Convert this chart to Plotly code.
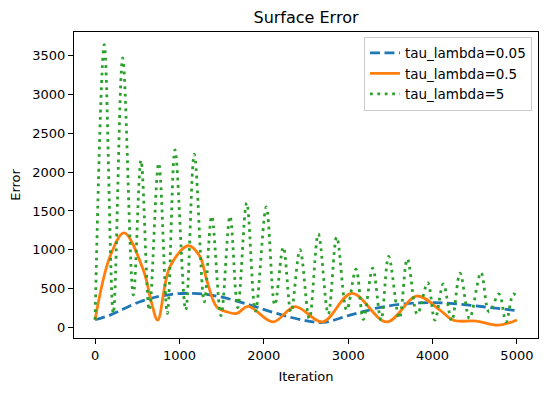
import plotly.graph_objects as go

# tau_lambda=0.05 (dashed blue)
blue_x = [0, 177, 532, 849, 1164, 1481, 1836, 2153, 2468, 2705, 3021, 3416, 3851, 4207, 4602, 5000]
blue_y = [100, 160, 331, 418, 440, 396, 289, 181, 94, 65, 159, 267, 318, 311, 267, 218]

# tau_lambda=0.5 (solid orange)
orange_x = [0, 177, 343, 571, 671, 742, 888, 1105, 1243, 1323, 1441, 1560, 1679, 1816, 2109,
            2370, 2698, 3042, 3457, 3812, 4088, 4246, 4523, 4780, 5000]
orange_y = [100, 914, 1217, 742, 311, 94, 784, 1052, 914, 612, 267, 202, 181, 272, 72,
            269, 72, 440, 72, 405, 224, 94, 82, 30, 97]

# tau_lambda=5 (dotted green): peaks and troughs
green_x = [0, 109, 216, 327, 453, 544, 642, 754, 856, 947, 1074, 1176, 1294, 1382, 1492,
           1599, 1690, 1797, 1901, 2029, 2130, 2231, 2322, 2429, 2539, 2646, 2764, 2864,
           2982, 3093, 3179, 3291, 3389, 3480, 3606, 3701, 3819, 3943, 4027, 4128, 4227,
           4326, 4438, 4574, 4669, 4788, 4871, 4957, 5000]
green_y = [100, 3640, 181, 3469, 418, 2152, 224, 2114, 181, 2286, 224, 2230, 331, 1432, 153,
           1432, 256, 1605, 211, 1551, 289, 1035, 198, 1001, 116, 1204, 172, 1165,
           224, 751, 104, 764, 94, 914, 116, 884, 172, 577, 94, 560, 85,
           699, 116, 707, 202, 431, 72, 431, 395]

x_ticks = [0, 1000, 2000, 3000, 4000, 5000]
y_ticks = [0, 500, 1000, 1500, 2000, 2500, 3000, 3500]

fig = go.Figure()
fig.add_trace(go.Scatter(x=blue_x, y=blue_y, mode="lines", name="tau_lambda=0.05",
                         line=dict(color="#1f77b4", width=2.8, dash="10px,4.5px", shape="spline")))
fig.add_trace(go.Scatter(x=orange_x, y=orange_y, mode="lines", name="tau_lambda=0.5",
                         line=dict(color="#ff7f0e", width=2.8, shape="spline")))
fig.add_trace(go.Scatter(x=green_x, y=green_y, mode="lines", name="tau_lambda=5",
                         line=dict(color="#2ca02c", width=2.8, dash="2.8px,4.6px", shape="spline")))

axis_style = dict(showgrid=False, zeroline=False, showline=True, linecolor="black", linewidth=1,
                  mirror=True, ticks="outside", ticklen=5, tickwidth=1, tickcolor="black",
                  automargin=False, tickfont=dict(size=13, color="black"))

# page body has an 8px margin, so the figure is a bit smaller than the window
fig.update_layout(
    width=541, height=385,
    margin=dict(l=66, r=11, t=24, b=55),
    paper_bgcolor="white", plot_bgcolor="white",
    font=dict(family="DejaVu Sans", color="black"),
    title=dict(text="Surface Error", x=0.5, xref="paper", y=1 - 9 / 385, yref="container",
               xanchor="center", yanchor="middle", font=dict(size=16)),
    xaxis=dict(range=[-250, 5250], tickvals=x_ticks, title=dict(text="Iteration", font=dict(size=13), standoff=10),
               **axis_style),
    yaxis=dict(range=[-135, 3803], tickvals=y_ticks, title=dict(text="Error", font=dict(size=13), standoff=10),
               **axis_style),
    legend=dict(x=0.987, y=0.985, xanchor="right", yanchor="top", bgcolor="rgba(255,255,255,0.8)",
                bordercolor="#cccccc", borderwidth=1, font=dict(size=13.5)),
)

fig.write_html("out.html")
